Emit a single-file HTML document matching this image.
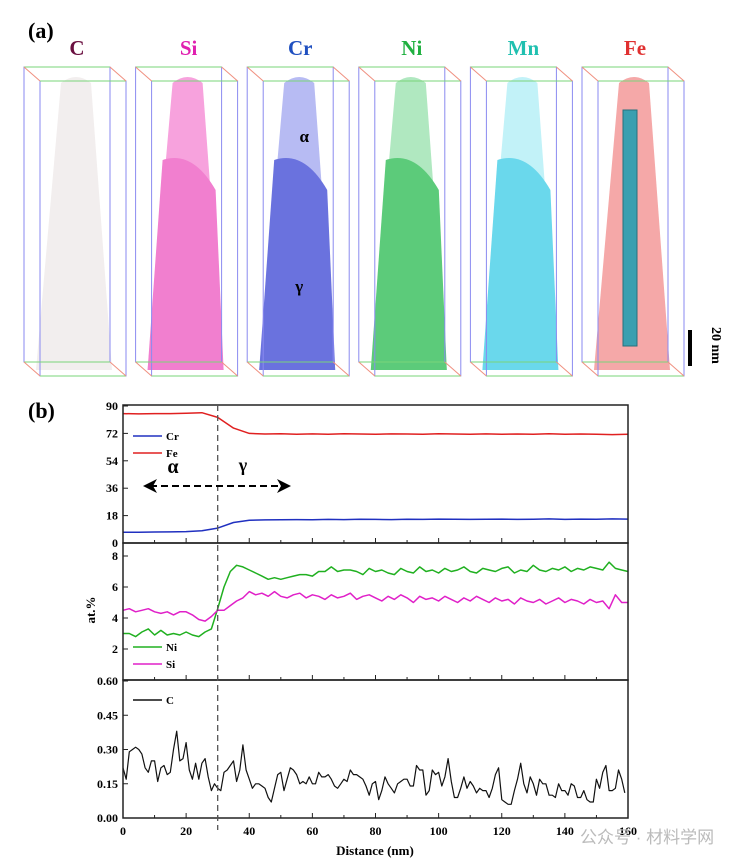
<!DOCTYPE html>
<html><head><meta charset="utf-8"><style>
html,body{margin:0;padding:0;background:#fff;width:743px;height:863px;overflow:hidden}
svg text{font-family:"Liberation Serif",serif;font-weight:bold}
</style></head><body>
<svg id="fig" width="743" height="863" viewBox="0 0 743 863" xmlns="http://www.w3.org/2000/svg">
<text x="28" y="38" font-size="22">(a)</text>
<g id="apt"></g>
<g>
<rect x="688" y="330" width="4" height="36" fill="#000"/>
<text x="0" y="0" font-size="14" transform="translate(712,327) rotate(90)">20 nm</text>
</g>
<text x="28" y="418" font-size="22">(b)</text>
<g id="chart"></g>
<text x="95" y="610" font-size="13" transform="rotate(-90 95 610)" text-anchor="middle">at.%</text>
<text x="375" y="855" font-size="13" text-anchor="middle">Distance (nm)</text>
<text x="580" y="843" font-size="17" fill="#bbb" style="font-family:'Liberation Sans','Noto Sans CJK SC',sans-serif;font-weight:normal">公众号 · 材料学网</text>
</svg>
<script>
const NS='http://www.w3.org/2000/svg';
function mk(tag,attrs,parent){const e=document.createElementNS(NS,tag);for(const k in attrs)e.setAttribute(k,attrs[k]);parent.appendChild(e);return e;}
// ---- APT reconstructions ----
const elements=['C','Si','Cr','Ni','Mn','Fe'];
const labelColors=['#6a1040','#e020b0','#2050c0','#20b040','#20c0b0','#e03030'];
const upperFill=['#f1ecec','#f7a2dd','#b7bbf3','#b0e8c0','#c2f2f8','#f5a8a8'];
const lowerFill=['#ece6e7','#f17fcf','#6a72de','#5ccb7a','#6ad8ec','#f07a7a'];
const apt=document.getElementById('apt');
elements.forEach((el,i)=>{
  const bx=24+i*111.6, by=67, w=86, h=295, dx=16, dy=14;
  const g=mk('g',{},apt);
  
  
  const t=mk('text',{x:bx+dx+w/2-6,y:55,'font-size':21,'text-anchor':'middle',fill:labelColors[i]},g);
  t.textContent=el;
  
  
  const cx=bx+52, top=75, bot=370;
  const d=`M${cx-15},${top+8} Q${cx},${top-4} ${cx+15},${top+8} L${bx+88},${bot} L${bx+12},${bot} Z`;
  mk('path',{d:d,fill:upperFill[i],opacity:i==0?0.9:1},g);
  if(i>=1&&i<=4){
    const d2=`M${cx-25},${top+85} Q${cx+5},${top+75} ${cx+28},${top+115} L${bx+88},${bot} L${bx+12},${bot} Z`;
    mk('path',{d:d2,fill:lowerFill[i]},g);
  }
  if(i==5){mk('rect',{x:bx+41,y:110,width:14,height:236,fill:'#3a9fb0',stroke:'#27707c','stroke-width':1},g);}
  mk('rect',{x:bx,y:by,width:w,height:h,fill:'none',stroke:'#8a8af0','stroke-width':1},g);
  mk('rect',{x:bx+dx,y:by+dy,width:w,height:h,fill:'none',stroke:'#8a8af0','stroke-width':1},g);
  [[bx,by,bx+w,by],[bx+dx,by+dy,bx+dx+w,by+dy],[bx,by+h,bx+w,by+h],[bx+dx,by+dy+h,bx+dx+w,by+dy+h]].forEach(l=>mk('line',{x1:l[0],y1:l[1],x2:l[2],y2:l[3],stroke:'#7ad47a','stroke-width':1},g));
  [[0,0],[w,0],[0,h],[w,h]].forEach(p=>mk('line',{x1:bx+p[0],y1:by+p[1],x2:bx+dx+p[0],y2:by+dy+p[1],stroke:'#f09080','stroke-width':1},g));
  if(i==2){
    const a=mk('text',{x:cx+5,y:142,'font-size':17,'text-anchor':'middle'},g);a.textContent='α';
    
    const c=mk('text',{x:cx,y:292,'font-size':17,'text-anchor':'middle'},g);c.textContent='γ';
    
  }
});
// ---- Chart data ----
const xFeCr=[0,5,10,15,20,25,30,35,40,45,50,55,60,65,70,75,80,85,90,95,100,105,110,115,120,125,130,135,140,145,150,155,160];
const feVals=[85,84.8,85,85,85.2,85.6,82.5,75.5,72,71.6,71.8,71.5,71.7,71.4,71.8,71.6,71.5,71.7,71.6,71.4,71.8,71.6,71.5,71.7,71.4,71.6,71.5,71.8,71.4,71.6,71.5,71.2,71.4];
const crVals=[7,7.1,7.2,7.3,7.5,8,9.8,13.5,15,15.2,15.3,15.4,15.3,15.5,15.4,15.6,15.5,15.4,15.6,15.5,15.7,15.6,15.5,15.6,15.7,15.5,15.6,15.8,15.5,15.7,15.6,15.8,15.7];
const xNiSi=[0,2,4,6,8,10,12,14,16,18,20,22,24,26,28,30,32,34,36,38,40,42,44,46,48,50,52,54,56,58,60,62,64,66,68,70,72,74,76,78,80,82,84,86,88,90,92,94,96,98,100,102,104,106,108,110,112,114,116,118,120,122,124,126,128,130,132,134,136,138,140,142,144,146,148,150,152,154,156,158,160];
const niVals=[3.0,3.0,2.8,3.1,3.3,2.9,3.2,2.9,3.0,2.9,3.1,2.9,2.8,3.1,3.3,4.6,6.0,7.0,7.4,7.3,7.1,6.9,6.7,6.5,6.6,6.5,6.6,6.7,6.8,6.8,6.7,7.0,7.0,7.3,7.0,7.1,7.1,7.0,6.8,7.2,7.0,7.1,6.9,6.8,7.2,7.0,6.9,7.3,7.0,7.1,6.9,7.2,7.0,7.1,7.3,7.0,6.9,7.2,7.1,7.0,7.2,7.3,6.9,7.1,7.0,7.4,7.1,7.0,7.2,7.1,7.3,7.0,7.2,7.1,7.3,7.2,7.1,7.6,7.2,7.1,7.0];
const siVals=[4.5,4.6,4.4,4.5,4.6,4.4,4.3,4.4,4.2,4.4,4.4,4.2,3.9,3.8,4.1,4.5,4.5,4.8,5.1,5.3,5.7,5.5,5.6,5.4,5.7,5.4,5.3,5.5,5.6,5.3,5.5,5.4,5.2,5.5,5.3,5.4,5.6,5.2,5.4,5.5,5.3,5.1,5.4,5.2,5.5,5.3,5.0,5.4,5.2,5.3,5.1,5.4,5.2,5.0,5.3,5.1,5.4,5.2,5.0,5.3,5.1,5.2,4.9,5.3,5.1,5.0,5.2,4.9,5.1,5.3,5.0,5.2,5.1,4.9,5.2,5.0,5.1,4.6,5.5,5.0,5.0];
const cVals=[0.22,0.17,0.29,0.30,0.31,0.30,0.28,0.22,0.20,0.25,0.25,0.16,0.22,0.23,0.19,0.20,0.30,0.38,0.25,0.26,0.33,0.21,0.17,0.24,0.17,0.24,0.26,0.18,0.12,0.15,0.13,0.12,0.20,0.21,0.23,0.25,0.16,0.21,0.32,0.21,0.17,0.13,0.15,0.15,0.14,0.13,0.09,0.07,0.13,0.19,0.20,0.12,0.17,0.22,0.21,0.19,0.15,0.16,0.15,0.18,0.15,0.15,0.20,0.18,0.18,0.19,0.17,0.14,0.13,0.15,0.17,0.16,0.21,0.19,0.19,0.18,0.17,0.14,0.10,0.15,0.16,0.08,0.12,0.18,0.15,0.13,0.11,0.15,0.16,0.17,0.17,0.14,0.14,0.23,0.21,0.21,0.10,0.12,0.21,0.19,0.20,0.14,0.18,0.26,0.16,0.09,0.09,0.13,0.18,0.13,0.16,0.14,0.11,0.13,0.12,0.12,0.09,0.13,0.19,0.22,0.08,0.07,0.06,0.06,0.12,0.17,0.24,0.15,0.11,0.18,0.15,0.10,0.17,0.15,0.15,0.10,0.10,0.09,0.15,0.12,0.12,0.10,0.15,0.14,0.09,0.09,0.12,0.08,0.07,0.07,0.17,0.13,0.20,0.23,0.12,0.12,0.13,0.21,0.17,0.11];
const topTicks=['0','18','36','54','72','90'];
const midTicks=['2','4','6','8'];
const botTicks=['0.00','0.15','0.30','0.45','0.60'];
const xTicks=['0','20','40','60','80','100','120','140','160'];
// ---- axes ----
const X0=123,X1=628;
const xs=v=>X0+(v/160)*(X1-X0);
const yTop=v=>543-(v/90)*137;
const yMid=v=>680-(v/8)*124;
const yBot=v=>818-(v/0.6)*137;
const ch=document.getElementById('chart');
function line(xArr,vals,yf,color,name,w){
  const d=vals.map((v,i)=>(i?'L':'M')+xs(xArr[i]).toFixed(1)+','+yf(v).toFixed(1)).join(' ');
  const p=mk('path',{d:d,fill:'none',stroke:color,'stroke-width':w||1.5,'stroke-linejoin':'round'},ch);
  
  
}
line(xFeCr,feVals,yTop,'#e02020','fe-line');
line(xFeCr,crVals,yTop,'#2030c0','cr-line');
line(xNiSi,niVals,yMid,'#20b020','ni-line');
line(xNiSi,siVals,yMid,'#e020c8','si-line');
line(cVals.map((v,i)=>i),cVals,yBot,'#111','c-line',1.2);
[[405,543],[543,680],[680,818]].forEach((r,i)=>{
  const f=mk('rect',{x:X0,y:r[0],width:X1-X0,height:r[1]-r[0],fill:'none',stroke:'#222','stroke-width':1.5},ch);
  
  
  for(let v=0;v<=160;v+=10){mk('line',{x1:xs(v),y1:r[1],x2:xs(v),y2:r[1]-(v%20?3:5),stroke:'#222'},ch);}
});
function yt(labels,yf){labels.forEach(l=>{const v=parseFloat(l);const y=yf(v);
  mk('line',{x1:X0,y1:y,x2:X0+5,y2:y,stroke:'#222'},ch);
  const t=mk('text',{x:X0-5,y:y+4,'font-size':12,'text-anchor':'end'},ch);t.textContent=l;
  });}
yt(topTicks,yTop);yt(midTicks,yMid);yt(botTicks,yBot);
xTicks.forEach(l=>{const t=mk('text',{x:xs(parseFloat(l)),y:835,'font-size':12,'text-anchor':'middle'},ch);t.textContent=l;
  });
const dl=mk('line',{x1:xs(30),y1:405,x2:xs(30),y2:830,stroke:'#555','stroke-width':1.3,'stroke-dasharray':'6,4'},ch);

function leg(y,color,label){mk('line',{x1:133,y1:y,x2:162,y2:y,stroke:color,'stroke-width':1.5},ch);
  const t=mk('text',{x:166,y:y+4,'font-size':11},ch);t.textContent=label;
  }
leg(436,'#2030c0','Cr');leg(453,'#e02020','Fe');leg(647,'#20b020','Ni');leg(664,'#e020c8','Si');leg(700,'#111','C');
const ta=mk('text',{x:173,y:473,'font-size':20,'text-anchor':'middle'},ch);ta.textContent='α';

const tg=mk('text',{x:243,y:471,'font-size':18,'text-anchor':'middle'},ch);tg.textContent='γ';

const ar=mk('line',{x1:150,y1:486,x2:285,y2:486,stroke:'#000','stroke-width':2,'stroke-dasharray':'7,4'},ch);

mk('path',{d:'M143,486 L157,479 L153,486 L157,493 Z',fill:'#000'},ch);
mk('path',{d:'M291,486 L277,479 L281,486 L277,493 Z',fill:'#000'},ch);
</script>
</body></html>
